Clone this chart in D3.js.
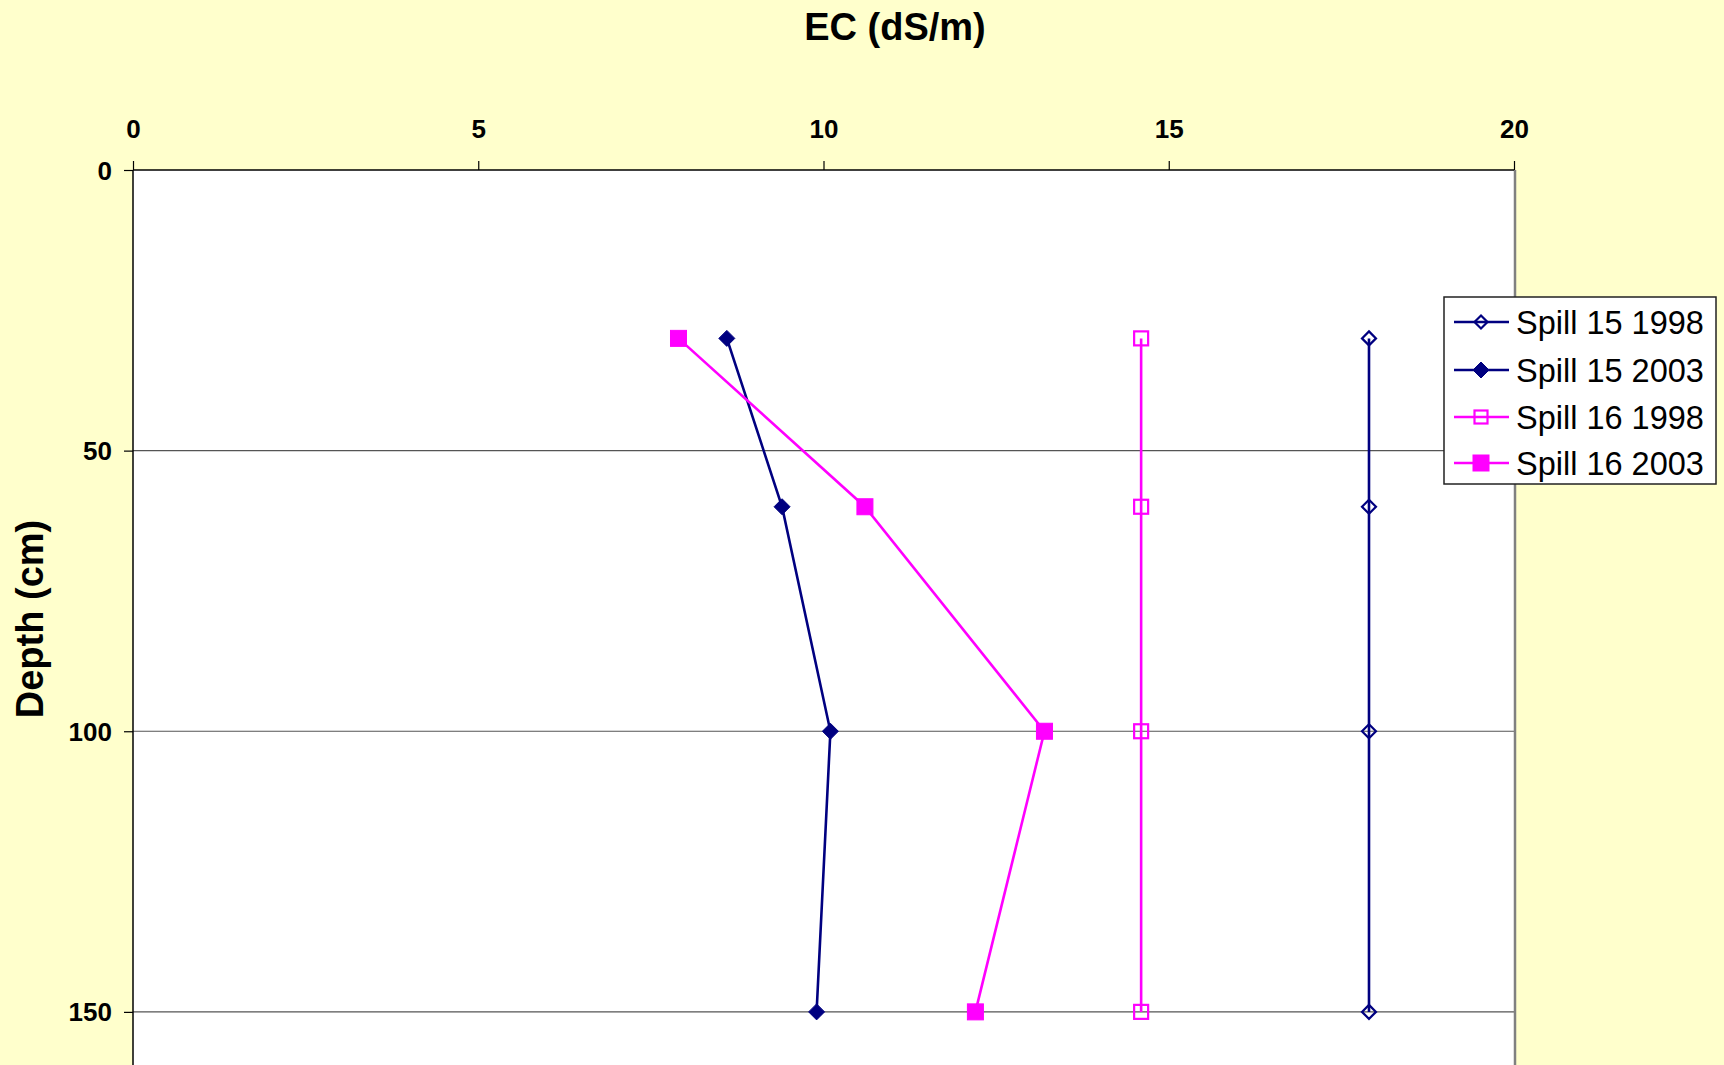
<!DOCTYPE html>
<html><head><meta charset="utf-8">
<script src="https://cdn.jsdelivr.net/npm/d3@7"></script>
<style>html,body{margin:0;padding:0;background:#FFFFCC;}svg{display:block;}</style>
</head><body>
<svg id="chart" width="1724" height="1065"></svg>
<script>
const depths = [30, 60, 100, 150];
const spill15_1998 = [17.9, 17.9, 17.9, 17.9];
const spill15_2003 = [8.6, 9.4, 10.1, 9.9];
const spill16_1998 = [14.6, 14.6, 14.6, 14.6];
const spill16_2003 = [7.9, 10.6, 13.2, 12.2];
const seriesNames = ["Spill 15 1998", "Spill 15 2003", "Spill 16 1998", "Spill 16 2003"];
const xTicks = [0, 5, 10, 15, 20];
const yTicks = [0, 50, 100, 150];

const series = [
  {name: seriesNames[0], values: spill15_1998, color: "#000080", shape: "diamond", filled: false},
  {name: seriesNames[1], values: spill15_2003, color: "#000080", shape: "diamond", filled: true},
  {name: seriesNames[2], values: spill16_1998, color: "#FF00FF", shape: "square", filled: false},
  {name: seriesNames[3], values: spill16_2003, color: "#FF00FF", shape: "square", filled: true}
];

const svg = d3.select("#chart");
const W = 1724, H = 1065;
const FONT = "Liberation Sans, Arial, sans-serif";
svg.append("rect").attr("width", W).attr("height", H).attr("fill", "#FFFFCC");

const x = d3.scaleLinear().domain([0, 20]).range([133, 1514]);
const y = d3.scaleLinear().domain([0, 160]).range([170, 1068]);

// plot area
svg.append("rect").attr("x", x(0)).attr("y", y(0)).attr("width", x(20) - x(0)).attr("height", y(160) - y(0)).attr("fill", "#fff");

// gridlines
svg.append("g").selectAll("line").data(yTicks.filter(d => d > 0)).join("line")
  .attr("x1", x(0)).attr("x2", x(20)).attr("y1", d => y(d)).attr("y2", d => y(d))
  .attr("stroke", "#555").attr("stroke-width", 1.2);

// right border
svg.append("line").attr("x1", x(20) + 1).attr("x2", x(20) + 1).attr("y1", y(0)).attr("y2", H)
  .attr("stroke", "#808080").attr("stroke-width", 2.5);

// axes
const xAxis = d3.axisTop(x).tickValues(xTicks).tickSize(9).tickFormat(d3.format("d"));
const gx = svg.append("g").attr("transform", `translate(0,${y(0)})`).call(xAxis);
gx.select(".domain").attr("stroke", "#000").attr("stroke-width", 1.5).attr("d", `M${x(0)},0H${x(20)}`);
gx.selectAll(".tick line").attr("stroke", "#000").attr("stroke-width", 1.2);
gx.selectAll(".tick text").attr("y", -41).attr("dy", "0.35em")
  .attr("font-family", FONT).attr("font-size", 26).attr("font-weight", "bold").attr("fill", "#000");

const yAxis = d3.axisLeft(y).tickValues(yTicks).tickSize(9).tickFormat(d3.format("d"));
const gy = svg.append("g").attr("transform", `translate(${x(0)},0)`).call(yAxis);
gy.select(".domain").attr("stroke", "#000").attr("stroke-width", 1.5).attr("d", `M0,${y(0)}V${H}`);
gy.selectAll(".tick line").attr("stroke", "#000").attr("stroke-width", 1.2);
gy.selectAll(".tick text").attr("x", -21).attr("dy", "0.35em")
  .attr("font-family", FONT).attr("font-size", 26).attr("font-weight", "bold").attr("fill", "#000");

// titles
svg.append("text").attr("x", 895).attr("y", 40).attr("text-anchor", "middle")
  .attr("font-family", FONT).attr("font-size", 38).attr("font-weight", "bold")
  .text("EC (dS/m)");
svg.append("text").attr("transform", "translate(43,619) rotate(-90)").attr("text-anchor", "middle")
  .attr("font-family", FONT).attr("font-size", 38).attr("font-weight", "bold")
  .text("Depth (cm)");

const line = d3.line().x(d => x(d[0])).y(d => y(d[1]));

function marker(g, s, cx, cy, size) {
  const r = size / 2;
  if (s.shape === "diamond") {
    g.append("path").attr("d", `M${cx},${cy - r}L${cx + r},${cy}L${cx},${cy + r}L${cx - r},${cy}Z`)
      .attr("fill", s.filled ? s.color : "none").attr("stroke", s.color).attr("stroke-width", s.filled ? 1 : 2.2);
  } else {
    g.append("rect").attr("x", cx - r).attr("y", cy - r).attr("width", size).attr("height", size)
      .attr("fill", s.filled ? s.color : "none").attr("stroke", s.color).attr("stroke-width", s.filled ? 1 : 2.2);
  }
}

series.forEach(s => {
  const pts = s.values.map((v, i) => [v, depths[i]]);
  svg.append("path").datum(pts).attr("d", line).attr("fill", "none").attr("stroke", s.color).attr("stroke-width", 2.6);
  const g = svg.append("g");
  pts.forEach(p => marker(g, s, x(p[0]), y(p[1]), s.filled ? 16 : 14));
});

// legend
const lg = svg.append("g");
lg.append("rect").attr("x", 1444).attr("y", 297).attr("width", 272).attr("height", 187)
  .attr("fill", "#fff").attr("stroke", "#222").attr("stroke-width", 1.5);
const rowY = [322, 370, 417, 463];
series.forEach((s, i) => {
  const cy = rowY[i];
  lg.append("line").attr("x1", 1454).attr("x2", 1509).attr("y1", cy).attr("y2", cy).attr("stroke", s.color).attr("stroke-width", 2.5);
  marker(lg, s, 1481, cy, s.filled ? 16 : 13);
  lg.append("text").attr("x", 1516).attr("y", cy).attr("dy", "0.36em")
    .attr("font-family", FONT).attr("font-size", 32.5).attr("fill", "#000")
    .text(s.name);
});
</script>
</body></html>
